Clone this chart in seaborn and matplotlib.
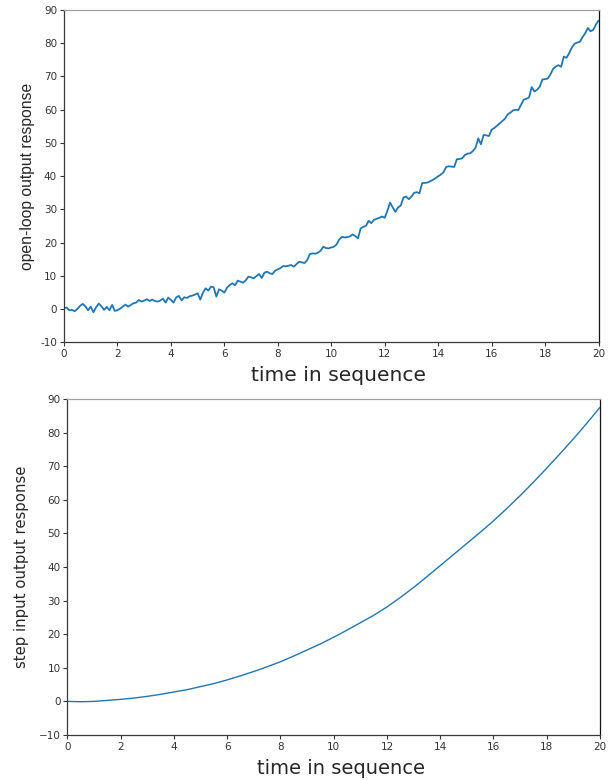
"""Open-loop vs step-input output response, two stacked panels."""

import matplotlib

matplotlib.use("Agg")

import matplotlib.pyplot as plt
import numpy as np
import pandas as pd
import seaborn as sns
from matplotlib.ticker import FuncFormatter, MultipleLocator

OPEN_T = np.round(np.arange(0, 201) * 0.1, 1)
OPEN_Y = [
    0.3, 0.5, -0.3, -0.2, -0.6, 0.1, 1.0, 1.6, 0.9, -0.3,
    0.8, -0.9, 0.6, 1.7, 0.9, -0.2, 0.7, -0.3, 1.3, -0.5,
    -0.3, 0.2, 0.8, 1.4, 0.8, 1.3, 1.8, 2.0, 2.8, 2.3,
    2.6, 3.0, 2.5, 2.9, 2.5, 2.3, 2.6, 3.2, 2.0, 3.5,
    2.8, 2.0, 3.6, 4.0, 2.7, 3.6, 3.4, 3.9, 4.1, 4.4,
    4.8, 2.9, 5.0, 6.3, 5.6, 6.8, 6.6, 3.8, 6.0, 5.6,
    5.0, 6.5, 7.3, 7.8, 7.2, 8.6, 8.3, 8.0, 8.7, 9.8,
    9.6, 9.3, 10.0, 10.6, 9.4, 11.0, 11.3, 10.8, 10.6, 11.6,
    12.0, 12.4, 13.0, 12.9, 13.1, 13.3, 12.8, 13.6, 14.3, 14.1,
    13.9, 14.8, 16.6, 16.8, 16.7, 17.0, 17.6, 18.8, 18.4, 18.3,
    18.6, 18.8, 19.5, 21.0, 21.8, 21.6, 21.7, 21.9, 22.5, 22.0,
    21.3, 24.3, 24.8, 25.1, 26.6, 25.9, 26.9, 27.2, 27.5, 27.9,
    27.5, 29.6, 32.1, 30.6, 29.3, 30.6, 31.2, 33.6, 33.9, 33.1,
    33.9, 35.0, 35.2, 34.9, 37.9, 38.0, 38.1, 38.5, 38.9, 39.4,
    40.0, 40.5, 41.2, 42.8, 43.0, 42.9, 42.8, 45.1, 45.2, 45.4,
    46.4, 46.8, 46.9, 47.6, 48.6, 51.4, 49.6, 52.4, 52.3, 52.1,
    54.0, 54.5, 55.2, 55.9, 56.6, 57.3, 58.6, 59.1, 59.8, 60.0,
    59.9, 61.5, 63.0, 63.3, 63.7, 66.8, 65.5, 66.0, 66.9, 69.1,
    69.2, 69.4, 70.6, 72.3, 73.0, 73.4, 72.9, 76.0, 75.6, 77.0,
    78.7, 79.8, 80.2, 80.4, 81.8, 83.0, 84.6, 83.6, 84.0, 85.6,
    86.8,
]

# step-input response, sampled every 0.5 time units
STEP_T = np.round(np.arange(0, 41) * 0.5, 1)
STEP_Y = [
    0.0, -0.1, 0.0, 0.3, 0.6, 1.0, 1.5, 2.1, 2.8, 3.5,
    4.4, 5.3, 6.4, 7.6, 8.9, 10.3, 11.8, 13.5, 15.3, 17.1,
    19.1, 21.2, 23.4, 25.6, 28.1, 30.9, 33.9, 37.1, 40.4, 43.7,
    47.0, 50.3, 53.7, 57.4, 61.2, 65.2, 69.4, 73.7, 78.1, 82.7,
    87.5,
]

X_LABEL = "time in sequence"
TOP_YLABEL = "open-loop output response"
BOTTOM_YLABEL = "step input output response"
LINE_COLOR = "#1f77b4"

sns.set_theme(style="ticks")
plt.rcParams["font.family"] = ["DejaVu Sans"]

fig = plt.figure(figsize=(6.13, 7.8), dpi=100)
ax_top = fig.add_axes([0.1044, 0.5609, 0.872, 0.4263])
ax_bot = fig.add_axes([0.110, 0.0577, 0.8687, 0.4308])

open_df = pd.DataFrame({"t": OPEN_T, "y": OPEN_Y})
step_df = pd.DataFrame({"t": STEP_T, "y": STEP_Y})

sns.lineplot(data=open_df, x="t", y="y", color=LINE_COLOR, linewidth=1.3, ax=ax_top)
sns.lineplot(data=step_df, x="t", y="y", color=LINE_COLOR, linewidth=1.0, ax=ax_bot)

panels = [
    # axes, y label, its font, label x offset, x-label size
    (ax_top, TOP_YLABEL, {"family": "Liberation Sans", "fontsize": 11.3}, -0.054, 14.6),
    (ax_bot, BOTTOM_YLABEL, {"family": "DejaVu Sans", "fontsize": 10.7}, -0.072, 14.0),
]
for ax, ylabel, ylab_font, ylab_x, xlab_size in panels:
    ax.set_xlim(0, 20)
    ax.set_ylim(-10, 90)
    ax.xaxis.set_major_locator(MultipleLocator(2))
    ax.yaxis.set_major_locator(MultipleLocator(10))
    ax.tick_params(axis="both", labelsize=7.5, length=3, width=0.8, colors="#333333", pad=2)
    for sp in ax.spines.values():
        sp.set_visible(True)
        sp.set_linewidth(0.9)
        sp.set_color("#3a3a3a")
    ax.spines["top"].set_color("#a0a0a0")
    ax.spines["right"].set_color("#111111")
    ax.set_xlabel(X_LABEL, fontsize=xlab_size)
    ax.set_ylabel(ylabel, **ylab_font)
    ax.xaxis.set_label_coords(0.513, -0.072)
    ax.yaxis.set_label_coords(ylab_x, 0.5)

# top panel prints its negative tick with a plain hyphen
ax_top.yaxis.set_major_formatter(FuncFormatter(lambda v, _: f"{v:.0f}"))

fig.savefig("out.png", dpi=100)
plt.close(fig)
